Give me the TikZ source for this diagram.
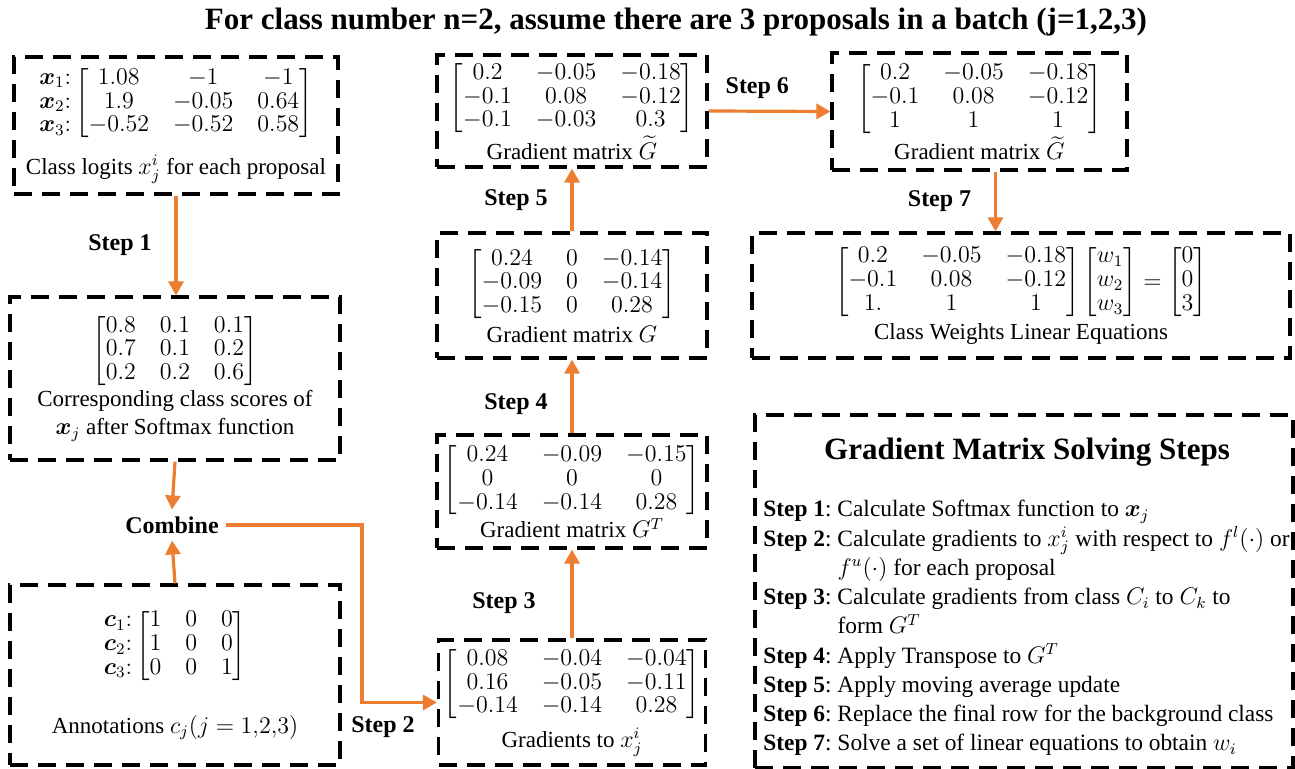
\documentclass[tikz,border=0pt]{standalone}
\usepackage{fontspec}
\setmainfont{Liberation Serif}
\usepackage{amsmath,amssymb,bm}
\usetikzlibrary{arrows.meta}

\definecolor{steporange}{HTML}{ED7D31}
\setlength{\arraycolsep}{6pt}
\renewcommand{\arraystretch}{0.85}

\begin{document}
\begin{tikzpicture}[x=0.5pt,y=-0.5pt,
  font=\fontsize{11.5}{14}\selectfont,
  matbox/.style={draw,line width=1.6pt,dash pattern=on 9pt off 5pt,align=center,inner sep=2pt},
  flow/.style={draw=steporange,line width=1.6pt,-{Triangle[length=7pt,width=7.5pt]}},
  steplabel/.style={font=\fontsize{12}{14}\selectfont\bfseries}]
  \useasboundingbox (0,0) rectangle (1295,769);

  \node[font=\fontsize{15.5}{18}\selectfont\bfseries] (title) at (676,22)
    {For class number n=2, assume there are 3 proposals in a batch (j=1,2,3)};

  % left column: logits, softmax scores, annotations
  \node[matbox,minimum width=162pt,minimum height=68.5pt] (logits) at (176,125.5)
    {$\begin{array}{@{}r@{}}\bm{x}_1{:}\\ \bm{x}_2{:}\\ \bm{x}_3{:}\end{array}
      \begin{bmatrix}1.08&-1&-1\\ 1.9&-0.05&0.64\\ -0.52&-0.52&0.58\end{bmatrix}$\\[7pt]
     Class logits $x_j^i$ for each proposal};
  \node[matbox,minimum width=165pt,minimum height=81.5pt] (softmax) at (175,378.5)
    {$\begin{bmatrix}0.8&0.1&0.1\\ 0.7&0.1&0.2\\ 0.2&0.2&0.6\end{bmatrix}$\\[1pt]
     Corresponding class scores of\\ $\bm{x}_j$ after Softmax function};
  \node[steplabel] (combine) at (172,525) {Combine};
  \node[matbox,minimum width=165pt,minimum height=90pt] (annot) at (175,675)
    {$\begin{array}{@{}r@{}}\bm{c}_1{:}\\ \bm{c}_2{:}\\ \bm{c}_3{:}\end{array}
      \begin{bmatrix}1&0&0\\ 1&0&0\\ 0&0&1\end{bmatrix}$\\[16pt]
     Annotations $c_j(j=1{,}2{,}3)$};

  % middle column: gradient matrices
  \node[matbox,minimum width=133.5pt,minimum height=62.5pt] (grad) at (572,702.5)
    {$\begin{bmatrix}0.08&-0.04&-0.04\\ 0.16&-0.05&-0.11\\ -0.14&-0.14&0.28\end{bmatrix}$\\[3pt]
     Gradients to $x_j^i$};
  \node[matbox,minimum width=135pt,minimum height=56.5pt] (gradT) at (572,491.5)
    {$\begin{bmatrix}0.24&-0.09&-0.15\\ 0&0&0\\ -0.14&-0.14&0.28\end{bmatrix}$\\
     Gradient matrix $G^T$};
  \node[matbox,minimum width=135pt,minimum height=62.5pt] (gradG) at (572,295.5)
    {$\begin{bmatrix}0.24&0&-0.14\\ -0.09&0&-0.14\\ -0.15&0&0.28\end{bmatrix}$\\[2pt]
     Gradient matrix $G$};
  \node[matbox,minimum width=135pt,minimum height=56pt] (gradGt) at (572,111)
    {$\begin{bmatrix}0.2&-0.05&-0.18\\ -0.1&0.08&-0.12\\ -0.1&-0.03&0.3\end{bmatrix}$\\
     Gradient matrix $\widetilde{G}$};

  % right column: replaced row, linear system, summary
  \node[matbox,minimum width=147.5pt,minimum height=58.5pt] (gradGr) at (979.5,111.5)
    {$\begin{bmatrix}0.2&-0.05&-0.18\\ -0.1&0.08&-0.12\\ 1&1&1\end{bmatrix}$\\
     Gradient matrix $\widetilde{G}$};
  \node[matbox,minimum width=269pt,minimum height=62.5pt] (lineq) at (1021,295.5)
    {$\begin{bmatrix}0.2&-0.05&-0.18\\ -0.1&0.08&-0.12\\ 1.&1&1\end{bmatrix}
      \begin{bmatrix}w_1\\ w_2\\ w_3\end{bmatrix} =
      \begin{bmatrix}0\\ 0\\ 3\end{bmatrix}$\\[2pt]
     Class Weights Linear Equations};
  \node[matbox,minimum width=269pt,minimum height=176.5pt] (steps) at (1024,591.5) {};
  \node[font=\fontsize{15.5}{18}\selectfont\bfseries] (stepstitle) at (1027,452)
    {Gradient Matrix Solving Steps};
  \node[anchor=north west,inner sep=0pt,font=\fontsize{11.7}{14.6}\selectfont] (stepslist) at (763,496)
    {\renewcommand{\arraystretch}{1}%
     \begin{tabular}{@{}l@{\ }l@{}}
     \textbf{Step 1}: & Calculate Softmax function to $\bm{x}_j$\\
     \textbf{Step 2}: & Calculate gradients to $x_j^i$ with respect to $f^l(\cdot)$ or\\
                      & $f^u(\cdot)$ for each proposal\\
     \textbf{Step 3}: & Calculate gradients from class $C_i$ to $C_k$ to\\
                      & form $G^T$\\
     \textbf{Step 4}: & Apply Transpose to $G^T$\\
     \textbf{Step 5}: & Apply moving average update\\
     \textbf{Step 6}: & Replace the final row for the background class\\
     \textbf{Step 7}: & Solve a set of linear equations to obtain $w_i$
     \end{tabular}};

  % connectors
  \draw[flow] (logits.south) -- node[steplabel,left=8pt] {Step 1} (logits.south |- softmax.north);
  \draw[flow] (softmax.south) -- (combine.north);
  \draw[flow] (annot.north) -- (combine.south);
  \coordinate (bend) at (362,521);
  \draw[flow] (combine.east) -- (combine.east -| bend) |- node[steplabel,pos=0.64,below=3pt] {Step 2} (grad.west);
  \draw[flow] (grad.north) -- node[steplabel,left=14pt,pos=0.4] {Step 3} (gradT.south);
  \draw[flow] (gradT.north) -- node[steplabel,left=8pt,pos=0.4] {Step 4} (gradG.south);
  \draw[flow] (gradG.north) -- node[steplabel,left=8pt] {Step 5} (gradGt.south);
  \draw[flow] (gradGt.east) -- node[steplabel,above=2pt,pos=0.4] {Step 6} (gradGr.west);
  \draw[flow] ([xshift=8pt]gradGr.south) -- node[steplabel,left=8pt] {Step 7} ([xshift=8pt]gradGr.south |- lineq.north);
\end{tikzpicture}
\end{document}
